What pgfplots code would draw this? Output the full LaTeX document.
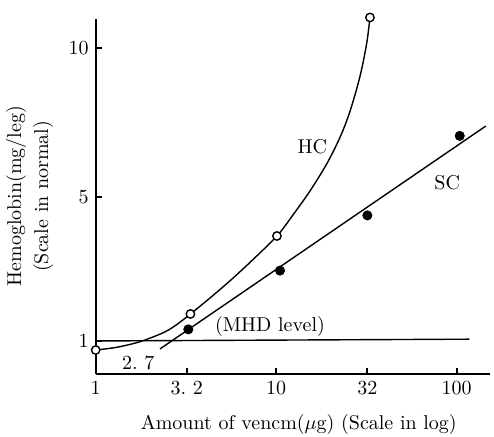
\documentclass[border=0pt]{standalone}
\usepackage{pgfplots}
\pgfplotsset{compat=1.18}
\usetikzlibrary{calc}

\begin{document}
\begin{tikzpicture}
\begin{axis}[
    scale only axis, width=197.2pt, height=177.7pt,
    xmode=log, xmin=1, xmax=153, ymin=-0.97, ymax=11,
    axis x line=bottom, axis y line=left,
    axis line style={-, line width=0.9pt},
    tick align=inside, major tick length=3pt, tick style={black, line width=0.9pt},
    xtick={1,3.2,10,32,100}, xticklabels={1,{3.\ 2},10,32,100},
    ytick={0.14,5,10}, yticklabels={1,5,10},
    xminorticks=false, yminorticks=false,
    clip=false,
    xlabel={Amount of vencm($\mu$g) (Scale in log)},
    xlabel style={at={(axis description cs:0.515,-0.143)}, anchor=center},
    ylabel={Hemoglobin(mg/leg)\\[1.5pt](Scale in normal)},
    ylabel style={align=center, at={(axis description cs:-0.09,0.5)}, anchor=south},
]
% HC curve
\addplot[black, line width=0.7pt, smooth] coordinates {
    (1,-0.165) (1.307,-0.074) (1.76,0.115) (2.369,0.418) (2.786,0.674)
    (3.35,1.05) (4.298,1.587) (5.546,2.166) (7.159,2.786) (10.1,3.676)
    (12.44,4.40) (15.39,5.192) (19.05,6.102) (22.57,6.998) (25.64,7.874)
    (29.13,9.053) (31.72,10.158) (33.09,11.038)};
% SC fitted line
\addplot[black, line width=0.7pt] coordinates {(2.27,-0.13) (145,7.38)};
% MHD level
\addplot[black, line width=0.7pt] coordinates {(1,0.14) (117.5,0.2)};
% HC points
\addplot[only marks, mark=*, mark size=2.1pt, mark options={fill=white, draw=black, line width=0.7pt}]
    coordinates {(1,-0.165) (3.35,1.05) (10.1,3.676) (33.09,11.038)};
% SC points
\addplot[only marks, mark=*, mark size=2.3pt, black]
    coordinates {(3.26,0.53) (10.5,2.51) (32,4.37) (104,7.05)};
\node at (axis cs:9.24,0.62) {(MHD level)};
\node at (axis cs:1.72,-0.59) {2.\ 7};
\node at (axis cs:15.85,6.68) {HC};
\node at (axis cs:88.7,5.47) {SC};
\end{axis}
\pgfresetboundingbox
\path[use as bounding box] ($(current axis.south west)+(-47.85pt,-31.5pt)$)
    rectangle ($(current axis.north east)+(2pt,9.3pt)$);
\end{tikzpicture}
\end{document}
